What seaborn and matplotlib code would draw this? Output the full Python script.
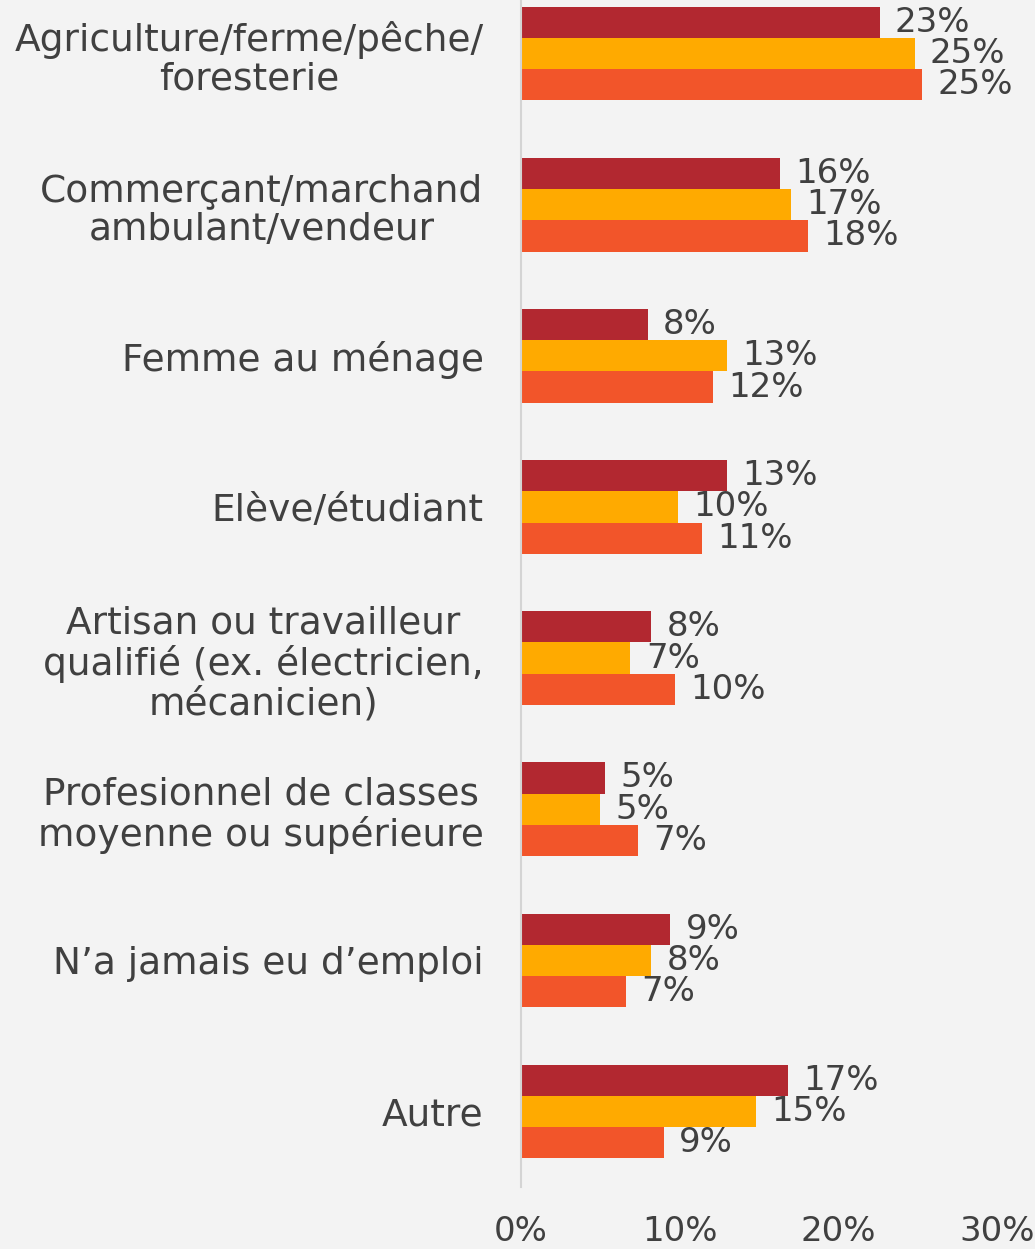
"""Horizontal grouped bar chart: occupation by group, three series."""
import pandas as pd
import matplotlib
matplotlib.use('Agg')
import matplotlib.pyplot as plt
import seaborn as sns

# categories, top to bottom
categories = [
    'Agriculture/ferme/pêche/\nforesterie',
    'Commerçant/marchand\nambulant/vendeur',
    'Femme au ménage',
    'Elève/étudiant',
    'Artisan ou travailleur\nqualifié (ex. électricien,\nmécanicien)',
    'Profesionnel de classes\nmoyenne ou supérieure',
    'N\u2019a jamais eu d\u2019emploi',
    'Autre',
]

# values in percent
serie_1 = [22.6, 16.3, 8.0, 13.0, 8.2, 5.3, 9.4, 16.8]
serie_2 = [24.8, 17.0, 13.0, 9.9, 6.9, 5.0, 8.2, 14.8]
serie_3 = [25.3, 18.1, 12.1, 11.4, 9.7, 7.4, 6.6, 9.0]

series_names = ['Série 1', 'Série 2', 'Série 3']
colors = ['#B22830', '#FFAA00', '#F2552A']

x_ticks = [0, 10, 20, 30]
x_tick_labels = ['0%', '10%', '20%', '30%']

TEXT = '#404040'
BG = '#f3f3f3'

sns.set_theme(style='white')
plt.rcParams['font.family'] = ['DejaVu Sans']

# long table for seaborn
rows = []
for name, vals in zip(series_names, [serie_1, serie_2, serie_3]):
    for cat, v in zip(categories, vals):
        rows.append({'categorie': cat, 'valeur': v, 'serie': name})
df = pd.DataFrame(rows)

fig = plt.figure(figsize=(10.35, 12.49), dpi=100, facecolor=BG)
ax = fig.add_axes([0.5034, 0.0496, 0.4599, 0.968])
ax.set_facecolor(BG)

sns.barplot(data=df, y='categorie', x='valeur', hue='serie', orient='h',
            order=categories, hue_order=series_names, palette=colors,
            saturation=1, width=0.62, linewidth=0, legend=False, ax=ax)

# data labels
for cont, vals in zip(ax.containers, [serie_1, serie_2, serie_3]):
    ax.bar_label(cont, labels=['{:.0f}%'.format(round(v)) for v in vals],
                 padding=11, fontsize=24.5, color=TEXT)

ax.set_xlim(0, 30)
ax.set_ylim(7.5, -0.5)
ax.set_xticks(x_ticks)
ax.set_xticklabels(x_tick_labels)
ax.set_xlabel('')
ax.set_ylabel('')

ax.tick_params(axis='x', length=0, pad=20, labelsize=24.5, labelcolor=TEXT)
ax.tick_params(axis='y', length=0, pad=27, labelsize=27, labelcolor=TEXT)
for lbl in ax.get_yticklabels():
    lbl.set_multialignment('center')
    lbl.set_linespacing(1.12)

for side in ['top', 'right', 'bottom']:
    ax.spines[side].set_visible(False)
ax.spines['left'].set_color('#d4d4d4')
ax.spines['left'].set_linewidth(1.5)

fig.savefig('out.png', dpi=100, facecolor=BG)
